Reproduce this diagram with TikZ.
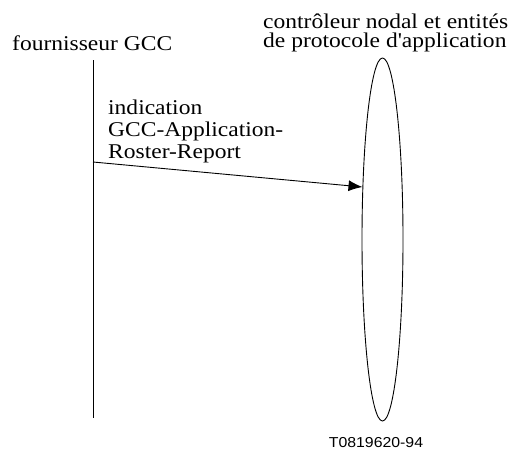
\documentclass[tikz,border=0pt]{standalone}
\usepackage{fontspec}
% serif face without TeX ligature mapping, so ' stays a straight quote
\newfontfamily\figserif[FakeStretch=1.12]{Liberation Serif}
\newfontfamily\figsans[FakeStretch=1.1]{Liberation Sans}
\usetikzlibrary{arrows.meta,shapes.geometric}
\begin{document}
\begin{tikzpicture}[x=1pt,y=-1pt,
  txt/.style={inner sep=0pt,anchor=base west,align=left,
    font=\figserif\fontsize{21}{22}\selectfont},
  lifeline/.style={line width=0.9pt},
  msg/.style={line width=0.9pt,-{Latex[length=14pt,width=11pt]}}]
\useasboundingbox (0,0) rectangle (511,450);

% participants (base anchor of a multi-line node = last line's baseline)
\node[txt] (prov) at (12,50) {fournisseur GCC};
\node[txt,font=\figserif\fontsize{21}{19}\selectfont] (ctrl) at (263,47)
  {contrôleur nodal et entités\\de protocole d'application};

% provider time line
\coordinate (provtop) at (93,60);
\coordinate (provbot) at (93,418);
\draw[lifeline] (provtop) -- (provbot);

% controller entity
\node[draw,ellipse,line width=0.9pt,minimum width=41pt,minimum height=363pt,
  inner sep=0pt] (ent) at (382.5,239.5) {};

% primitive
\coordinate (src) at (93,162);
\coordinate (dst) at (362.5,187);
\draw[msg] (src) -- (dst);
\node[txt] (lbl) at (108,158)
  {indication\\GCC-Application-\\Roster-Report};

\node[inner sep=0pt,anchor=base,font=\figsans\fontsize{14.4}{16}\selectfont]
  (ref) at (376,447) {T0819620-94};
\end{tikzpicture}
\end{document}
